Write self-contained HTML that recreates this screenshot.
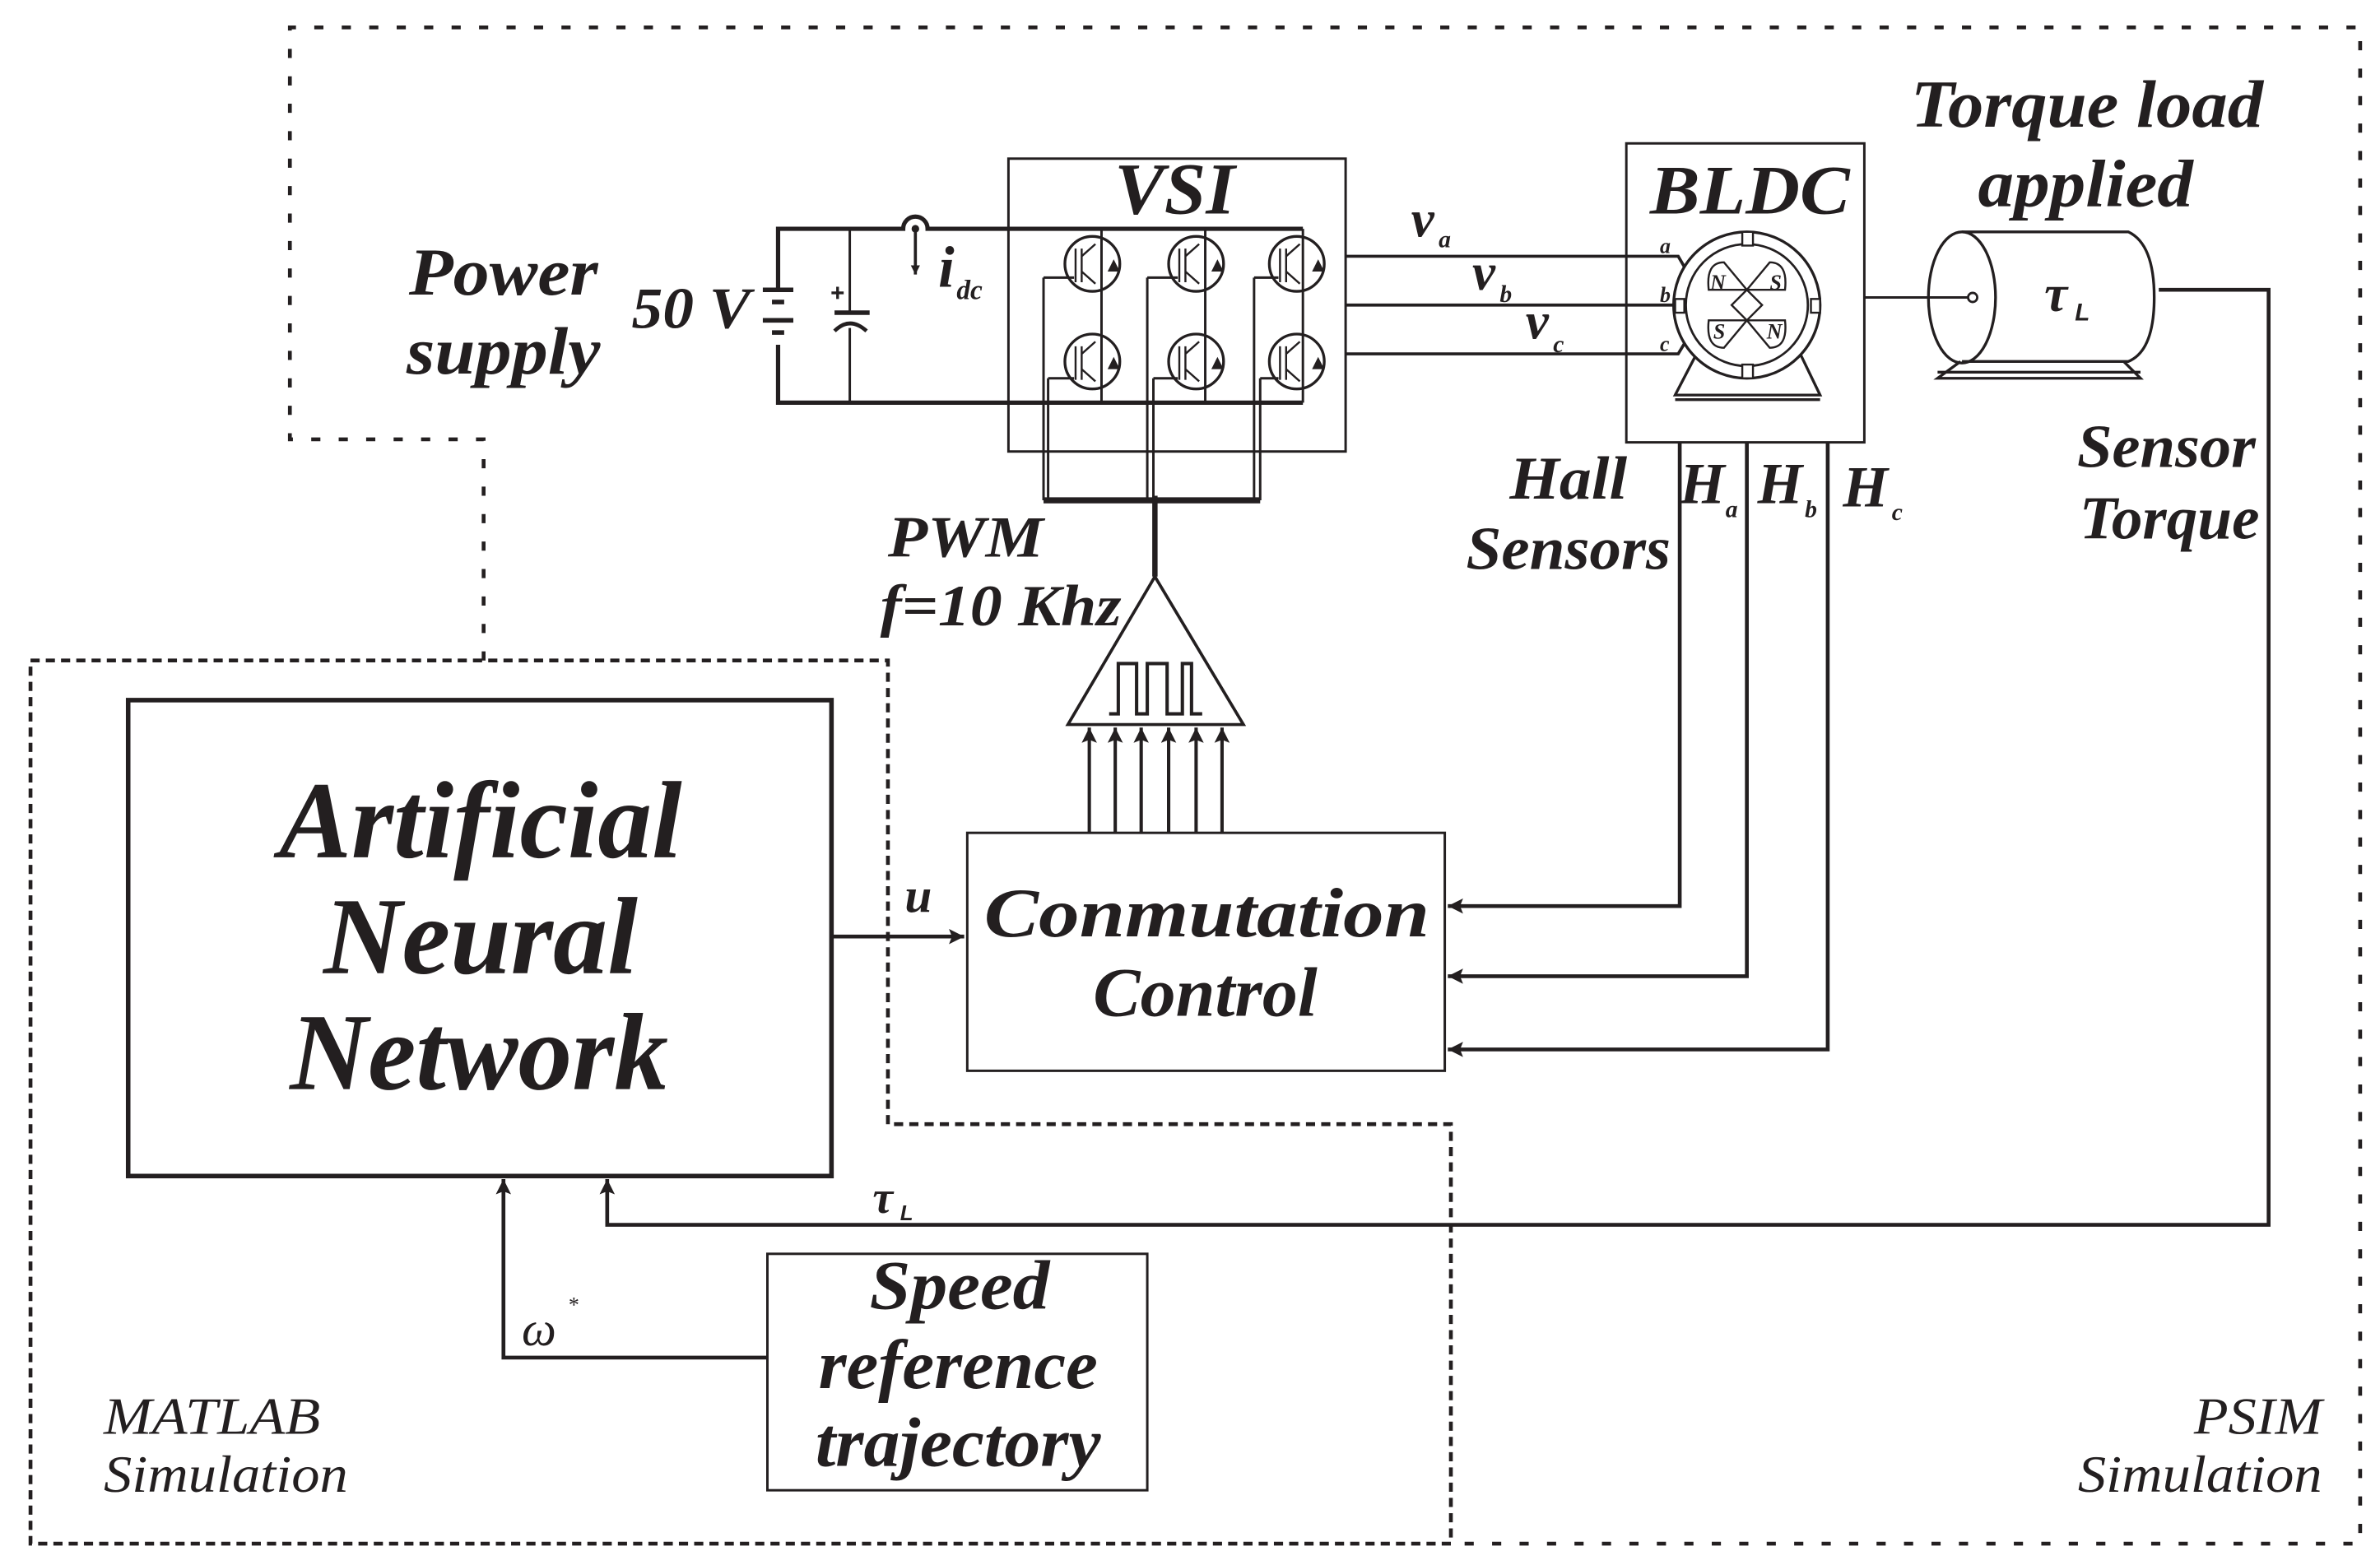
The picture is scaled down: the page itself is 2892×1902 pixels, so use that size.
<!DOCTYPE html>
<html><head><meta charset="utf-8"><style>
html,body{margin:0;padding:0;background:#fff;}
svg{display:block;}
text{font-family:"Liberation Serif",serif;font-style:italic;font-weight:bold;fill:#231f20;}
</style></head><body>
<svg width="2892" height="1902" viewBox="0 0 1560 1026" preserveAspectRatio="none" xmlns="http://www.w3.org/2000/svg">
<defs>
<marker id="ar" viewBox="0 0 10 10" refX="10" refY="5" markerWidth="6" markerHeight="6" markerUnits="userSpaceOnUse" orient="auto">
<path d="M0,0 L10,5 L0,10 z" fill="#231f20"/></marker>
<marker id="ar2" viewBox="0 0 10 10" refX="10" refY="5" markerWidth="14" markerHeight="10" markerUnits="userSpaceOnUse" orient="auto">
<path d="M0,0 L10,5 L0,10 L2,5 z" fill="#231f20"/></marker>
</defs>
<g fill="none" stroke="#231f20">
<path d="M317,433 L317,288 L190,288 L190,18 L1547,18 L1547,1012 L951,1012" stroke-width="2.5" stroke-dasharray="6,12"/>
<path d="M582,737 L582,433 L20,433 L20,1012 L951,1012 L951,737 L582,737" stroke-width="2.5" stroke-dasharray="6,4"/>
<rect x="84" y="459" width="461" height="312" stroke-width="3"/>
<rect x="634" y="546" width="313" height="156" stroke-width="1.6"/>
<rect x="503" y="822" width="249" height="155" stroke-width="1.6"/>
<rect x="661" y="104" width="221" height="192" stroke-width="1.6"/>
<rect x="1066" y="94" width="156" height="196" stroke-width="1.6"/>
<path d="M545,614 L632,614" stroke-width="2.5" marker-end="url(#ar2)"/>
<path d="M503,890 L330,890 L330,773" stroke-width="2.5" marker-end="url(#ar2)"/>
<path d="M1415,190 L1487,190 L1487,803 L398,803 L398,773" stroke-width="2.5" marker-end="url(#ar2)"/>
<path d="M1101,290 L1101,594 L949,594" stroke-width="2.5" marker-end="url(#ar2)"/>
<path d="M1145,290 L1145,640 L949,640" stroke-width="2.5" marker-end="url(#ar2)"/>
<path d="M1198,290 L1198,688 L949,688" stroke-width="2.5" marker-end="url(#ar2)"/>
<g stroke-width="2.2">
<path d="M714,546 L714,477" marker-end="url(#ar2)"/>
<path d="M731,546 L731,477" marker-end="url(#ar2)"/>
<path d="M748,546 L748,477" marker-end="url(#ar2)"/>
<path d="M766,546 L766,477" marker-end="url(#ar2)"/>
<path d="M784,546 L784,477" marker-end="url(#ar2)"/>
<path d="M801,546 L801,477" marker-end="url(#ar2)"/>
</g>
<path d="M757,378 L700,475 L815,475 Z" stroke-width="2"/>
<path d="M727,468 L733,468 L733,435 L745,435 L745,468 L752,468 L752,435 L765,435 L765,468 L775,468 L775,435 L781,435 L781,468 L788,468" stroke-width="2.2"/>
<path d="M757,325 L757,378" stroke-width="3.5"/>
<path d="M684,328 L826,328" stroke-width="4"/>
<path d="M510,190 L510,150 L592,150 A8,8 0 0 1 608,150 L854,150" stroke-width="2.8"/>
<path d="M510,226 L510,264 L854,264" stroke-width="2.8"/>
<path d="M557,150 L557,205 M557,215 L557,264" stroke-width="1.6"/>
<path d="M547,205 L570,205" stroke-width="3"/>
<path d="M547,217 Q557,207 568,217" stroke-width="2.5"/>
<path d="M545,192 L553,192 M549,188 L549,196" stroke-width="1.8"/>
<path d="M500,190 L520,190 M506,198 L514,198 M500,210 L520,210 M506,218 L514,218" stroke-width="3"/>
<path d="M600,150 L600,180" stroke-width="2" marker-end="url(#ar)"/>
<circle cx="600" cy="150" r="2" fill="#231f20"/>
<g stroke-width="1.6">
<path d="M722,150 L722,264 M790,150 L790,264 M854,150 L854,264"/>
<path d="M684,182 L704,182 M684,182 L684,328"/>
<path d="M687,248 L704,248 M687,248 L687,328"/>
<path d="M752,182 L772,182 M752,182 L752,328"/>
<path d="M756,248 L772,248 M756,248 L756,328"/>
<path d="M822,182 L838,182 M822,182 L822,328"/>
<path d="M826,248 L838,248 M826,248 L826,328"/>
</g>
<g stroke-width="1.8">
<circle cx="716" cy="173" r="18"/><circle cx="784" cy="173" r="18"/><circle cx="850" cy="173" r="18"/>
<circle cx="716" cy="237" r="18"/><circle cx="784" cy="237" r="18"/><circle cx="850" cy="237" r="18"/>
</g>
<g stroke-width="1.3">
<path d="M705,163 L705,185 M709,163 L709,185 M709,168 L718,160 M709,178 L718,186"/>
<path d="M773,163 L773,185 M777,163 L777,185 M777,168 L786,160 M777,178 L786,186"/>
<path d="M839,163 L839,185 M843,163 L843,185 M843,168 L852,160 M843,178 L852,186"/>
<path d="M705,227 L705,249 M709,227 L709,249 M709,232 L718,224 M709,242 L718,250"/>
<path d="M773,227 L773,249 M777,227 L777,249 M777,232 L786,224 M777,242 L786,250"/>
<path d="M839,227 L839,249 M843,227 L843,249 M843,232 L852,224 M843,242 L852,250"/>
</g>
<g fill="#231f20" stroke="none">
<path d="M726,178 L734,178 L730,170z M794,178 L802,178 L798,170z M860,178 L868,178 L864,170z M726,242 L734,242 L730,234z M794,242 L802,242 L798,234z M860,242 L868,242 L864,234z"/>
</g>
<path d="M882,168 L1100,168 L1107,180" stroke-width="2"/>
<path d="M882,200 L1099,200" stroke-width="2"/>
<path d="M882,232 L1100,232 L1106,222" stroke-width="2"/>
<!-- motor -->
<path d="M1112,232 L1098,259 L1193,259 L1180,232 M1098,262 L1193,262" stroke-width="1.8" fill="#fff"/>
<ellipse cx="1145" cy="200" rx="48" ry="48" stroke-width="1.8" fill="#fff"/>
<ellipse cx="1145" cy="200" rx="40" ry="40" stroke-width="1.5"/>
<path d="M1145,190 L1130,172 Q1118,172 1120,190 L1130,190 Z M1145,190 L1160,172 Q1172,172 1170,190 L1160,190 Z M1145,210 L1130,228 Q1118,228 1120,210 L1130,210 Z M1145,210 L1160,228 Q1172,228 1170,210 L1160,210 Z" stroke-width="1.3"/>
<path d="M1145,190 L1155,200 L1145,210 L1135,200 Z" stroke-width="1.3"/>
<rect x="1142" y="152" width="7" height="9" stroke-width="1.3" fill="#fff"/>
<rect x="1142" y="239" width="7" height="9" stroke-width="1.3" fill="#fff"/>
<rect x="1098" y="196" width="6" height="9" stroke-width="1.3" fill="#fff"/>
<rect x="1187" y="196" width="6" height="9" stroke-width="1.3" fill="#fff"/>
<!-- load -->
<path d="M1222,195 L1290,195" stroke-width="1.6"/>
<circle cx="1293" cy="195" r="3" stroke-width="1.5"/>
<ellipse cx="1286" cy="195" rx="22" ry="43" stroke-width="1.8"/>
<path d="M1286,152 L1395,152 Q1412,160 1412,195 Q1412,230 1395,237 L1286,237" stroke-width="1.8"/>
<path d="M1285,237 L1270,248 L1403,248 L1392,237 M1270,244 L1403,244" stroke-width="1.8"/>
</g>
<g text-anchor="middle" lengthAdjust="spacingAndGlyphs">
<text x="315" y="562" font-size="72" textLength="264" lengthAdjust="spacingAndGlyphs">Artificial</text>
<text x="315" y="638" font-size="72" textLength="206" lengthAdjust="spacingAndGlyphs">Neural</text>
<text x="314" y="714" font-size="72" textLength="248" lengthAdjust="spacingAndGlyphs">Network</text>
<text x="791" y="614" font-size="46" textLength="292" lengthAdjust="spacingAndGlyphs">Conmutation</text>
<text x="790" y="666" font-size="46" textLength="147" lengthAdjust="spacingAndGlyphs">Control</text>
<text x="629" y="858" font-size="46" textLength="118" lengthAdjust="spacingAndGlyphs">Speed</text>
<text x="628" y="910" font-size="46" textLength="183" lengthAdjust="spacingAndGlyphs">reference</text>
<text x="628" y="961" font-size="46" textLength="187" lengthAdjust="spacingAndGlyphs">trajectory</text>
<text x="770" y="140" font-size="48" textLength="79" lengthAdjust="spacingAndGlyphs">VSI</text>
<text x="1147" y="140" font-size="46" textLength="131" lengthAdjust="spacingAndGlyphs">BLDC</text>
<text x="1368" y="83" font-size="44" textLength="231" lengthAdjust="spacingAndGlyphs">Torque load</text>
<text x="1367" y="135" font-size="44" textLength="141" lengthAdjust="spacingAndGlyphs">applied</text>
<text x="330" y="193" font-size="44" textLength="124" lengthAdjust="spacingAndGlyphs">Power</text>
<text x="330" y="245" font-size="44" textLength="127" lengthAdjust="spacingAndGlyphs">supply</text>
<text x="1420" y="306" font-size="40" textLength="117" lengthAdjust="spacingAndGlyphs">Sensor</text>
<text x="1422" y="353" font-size="40" textLength="118" lengthAdjust="spacingAndGlyphs">Torque</text>
<text x="1028" y="327" font-size="40" textLength="77" lengthAdjust="spacingAndGlyphs">Hall</text>
<text x="1028" y="373" font-size="40" textLength="134" lengthAdjust="spacingAndGlyphs">Sensors</text>
</g>
<text x="414" y="215" font-size="38" textLength="78" lengthAdjust="spacingAndGlyphs">50 V</text>
<text x="615" y="188" font-size="38">i</text><text x="627" y="196" font-size="18">dc</text>
<text x="582" y="365" font-size="38" textLength="102" lengthAdjust="spacingAndGlyphs">PWM</text>
<text x="577" y="410" font-size="38" textLength="158" lengthAdjust="spacingAndGlyphs">f=10 Khz</text>
<text x="925" y="155" font-size="34">v</text><text x="943" y="162" font-size="16">a</text>
<text x="965" y="190" font-size="34">v</text><text x="983" y="198" font-size="16">b</text>
<text x="1000" y="222" font-size="34">v</text><text x="1018" y="231" font-size="16">c</text>
<text x="1088" y="166" font-size="14">a</text>
<text x="1088" y="198" font-size="14">b</text>
<text x="1088" y="230" font-size="14">c</text>
<text x="1121" y="190" font-size="14">N</text><text x="1160" y="190" font-size="14">S</text>
<text x="1123" y="222" font-size="14">S</text><text x="1158" y="222" font-size="14">N</text>
<text x="1340" y="204" font-size="34">τ</text><text x="1360" y="210" font-size="16" style="font-family:'Liberation Sans',sans-serif">L</text>
<text x="1101" y="330" font-size="38">H</text><text x="1131" y="339" font-size="16">a</text>
<text x="1152" y="330" font-size="38">H</text><text x="1183" y="339" font-size="16">b</text>
<text x="1208" y="332" font-size="38">H</text><text x="1240" y="341" font-size="16">c</text>
<text x="593" y="598" font-size="32">u</text>
<text x="342" y="882" font-size="32" style="font-weight:normal">ω</text><text x="372" y="860" font-size="14" style="font-weight:normal">*</text>
<text x="572" y="795" font-size="30">τ</text><text x="590" y="800" font-size="14" style="font-family:'Liberation Sans',sans-serif">L</text>
<text x="68" y="940" font-size="34" style="font-weight:normal" textLength="142" lengthAdjust="spacingAndGlyphs">MATLAB</text>
<text x="68" y="978" font-size="34" style="font-weight:normal" textLength="160" lengthAdjust="spacingAndGlyphs">Simulation</text>
<text x="1438" y="940" font-size="34" style="font-weight:normal" textLength="84" lengthAdjust="spacingAndGlyphs">PSIM</text>
<text x="1362" y="978" font-size="34" style="font-weight:normal" textLength="160" lengthAdjust="spacingAndGlyphs">Simulation</text>
</svg>
</body></html>
